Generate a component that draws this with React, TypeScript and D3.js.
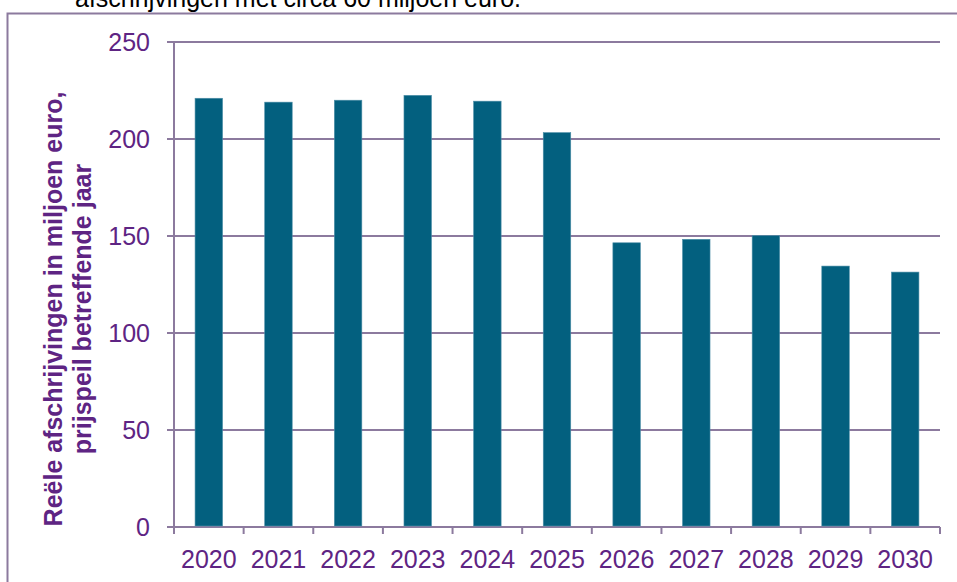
import React from "react";
import * as d3 from "d3";

const years = ["2020", "2021", "2022", "2023", "2024", "2025", "2026", "2027", "2028", "2029", "2030"];
const values = [221, 219, 220, 222.5, 219.5, 203.3, 146.5, 148.3, 150.2, 134.5, 131.4];
const yTicks = [0, 50, 100, 150, 200, 250];
const axisTitle1 = "Reële afschrijvingen in miljoen euro,";
const axisTitle2 = "prijspeil betreffende jaar";
const topText = "afschrijvingen met circa 60 miljoen euro.";

const W = 957;
const H = 582;
const left = 174;
const right = 940;
const top = 42;
const bottom = 527;

const barColor = "#03607F";
const gridColor = "#8C7A9E";
const labelColor = "#5E2483";
const font = "Arial, 'Liberation Sans', sans-serif";

export default function App() {
  const x = d3.scaleBand<string>().domain(years).range([left, right]).padding(0);
  const y = d3.scaleLinear().domain([0, 250]).range([bottom, top]);
  const bw = x.bandwidth() * 0.395;
  const boundaries = d3.range(years.length + 1).map((i) => left + i * x.step());

  return (
    <svg width={W} height={H} style={{ position: "absolute", left: 0, top: 0 }} fontFamily={font}>
      <rect x={0} y={0} width={W} height={H} fill="#fff" />
      <text x={75} y={7} fontSize={25} fill="#000">{topText}</text>
      <path d={`M7.5,${H + 5}V13.5H${W + 5}`} fill="none" stroke={gridColor} strokeWidth={2} />
      {yTicks.map((t) => (
        <g key={t}>
          <line x1={t === 0 ? left - 7 : left - 7} x2={right} y1={y(t)} y2={y(t)} stroke={gridColor} strokeWidth={2} />
          <text x={150} y={y(t)} dy="0.36em" textAnchor="end" fontSize={25} fill={labelColor}>{t}</text>
        </g>
      ))}
      <line x1={left} x2={left} y1={top} y2={bottom + 1} stroke={gridColor} strokeWidth={2} />
      {boundaries.map((bx, i) => (
        <line key={i} x1={bx} x2={bx} y1={bottom} y2={bottom + 7} stroke={gridColor} strokeWidth={2} />
      ))}
      {years.map((yr, i) => (
        <rect
          key={yr}
          x={(x(yr) as number) + x.bandwidth() / 2 - bw / 2}
          y={y(values[i])}
          width={bw}
          height={y(0) - y(values[i]) - 1}
          fill={barColor}
          stroke="#4f8fa8"
          strokeWidth={0.6}
        />
      ))}
      {years.map((yr) => (
        <text key={yr} x={(x(yr) as number) + x.bandwidth() / 2} y={568} textAnchor="middle" fontSize={25} fill={labelColor}>{yr}</text>
      ))}
      <g transform="translate(0,309) rotate(-90)">
        <text x={0} y={62} textAnchor="middle" fontSize={25} fontWeight="bold" fill={labelColor}>{axisTitle1}</text>
        <text x={0} y={91} textAnchor="middle" fontSize={25} fontWeight="bold" fill={labelColor}>{axisTitle2}</text>
      </g>
    </svg>
  );
}
